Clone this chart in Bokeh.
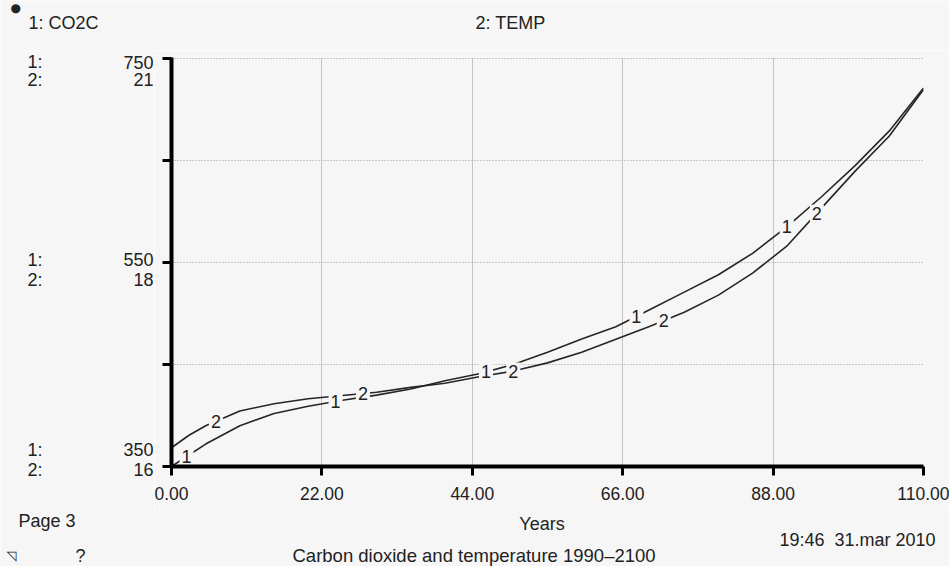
import numpy as np
from bokeh.plotting import figure
from bokeh.layouts import column, row
from bokeh.models import Label, Range1d, FixedTicker, PrintfTickFormatter
from bokeh.core.properties import value
from bokeh.embed import file_html
from bokeh.resources import INLINE

# ---- data ----
years = [0, 2.5, 5, 10, 15, 20, 25, 30, 35, 40, 45, 50, 55, 60, 65, 70, 75, 80, 85, 90, 95, 100, 105, 110]
co2c = [350, 361, 372, 390, 402, 409, 415, 420, 426, 434, 441, 450, 462, 475, 487, 504, 521, 538, 559, 585, 614, 645, 679, 721]
temp = [16.23, 16.38, 16.50, 16.68, 16.77, 16.83, 16.87, 16.91, 16.97, 17.02, 17.10, 17.17, 17.27, 17.40,
        17.56, 17.72, 17.89, 18.10, 18.37, 18.70, 19.16, 19.62, 20.05, 20.62]
x_ticks = [0, 22, 44, 66, 88, 110]
co2_ticks = [350, 450, 550, 650, 750]
label1_years = [2.2, 24, 46, 68, 90]
label2_years = [6.5, 28, 50, 72, 94.4]
scale_rows = [("1:", "750"), ("2:", "21"), ("1:", "550"), ("2:", "18"), ("1:", "350"), ("2:", "16")]

BG = "#f6f6f6"
INK = "#222222"
FONT = "Liberation Sans"


def text_panel(w, h):
    f = figure(width=w, height=h, output_backend="svg", toolbar_location=None, title=None,
               x_axis_type=None, y_axis_type=None, min_border=0,
               background_fill_color=BG, border_fill_color=BG, outline_line_color=None)
    f.frame_align = False
    return f


def lab(fig, txt, x, y, align="left", size="18px", font=FONT):
    fig.add_layout(Label(x=x, y=y, x_units="screen", y_units="screen", text=txt,
                         text_font=font, text_font_size=size, text_color=INK,
                         text_align=align, text_baseline="middle"))


# ---- main chart ----
p = figure(width=795, height=460, x_range=Range1d(0, 110), y_range=Range1d(350, 751),
           output_backend="svg", toolbar_location=None, title=None,
           min_border_left=17, min_border_right=26, min_border_top=7, min_border_bottom=44,
           background_fill_color=BG, border_fill_color=BG, outline_line_color=None)
p.extra_y_ranges = {"temp": Range1d(16, 21.0125)}

p.xgrid.ticker = FixedTicker(ticks=x_ticks)
p.xgrid.grid_line_color = "#c4c4c4"
p.xgrid.grid_line_width = 1
p.ygrid.ticker = FixedTicker(ticks=co2_ticks)
p.ygrid.grid_line_color = "#9a9a9a"
p.ygrid.grid_line_dash = "1 2"
p.ygrid.grid_line_width = 1

for ax in (p.xaxis[0], p.yaxis[0]):
    ax.axis_line_width = 4
    ax.axis_line_color = "black"
    ax.major_tick_line_width = 3
    ax.major_tick_line_color = "black"
    ax.major_tick_in = 0
    ax.major_tick_out = 9
    ax.minor_tick_line_color = None
    ax.major_label_text_font = FONT
    ax.major_label_text_font_size = "17.5px"
    ax.major_label_text_color = INK
p.xaxis.ticker = FixedTicker(ticks=x_ticks)
p.xaxis.formatter = PrintfTickFormatter(format="%.2f")
p.xaxis.major_label_standoff = 11
p.yaxis.ticker = FixedTicker(ticks=co2_ticks)
p.yaxis.major_label_overrides = {t: "" for t in co2_ticks}
p.yaxis.major_label_standoff = 0

p.line(years, co2c, line_color="#262626", line_width=1.6)
p.line(years, temp, line_color="#262626", line_width=1.6, y_range_name="temp")

l1y = np.interp(label1_years, years, co2c)
l2y = np.interp(label2_years, years, temp)
p.text(x=label1_years, y=list(l1y), text=["1"] * len(label1_years), text_align="center",
       text_baseline="middle", text_font=value(FONT), text_font_size="18px", text_color=INK,
       background_fill_color=BG, padding=2)
p.text(x=label2_years, y=list(l2y), text=["2"] * len(label2_years), text_align="center",
       text_baseline="middle", text_font=value(FONT), text_font_size="18px", text_color=INK,
       background_fill_color=BG, padding=2, y_range_name="temp")

# ---- header ----
header = text_panel(949, 50)
lab(header, "\u25CF", 10, 43, size="12px", font="DejaVu Sans")
lab(header, "1: CO2C", 28, 28)
lab(header, "2: TEMP", 475, 28)

# ---- left scale labels ----
left = text_panel(154, 460)
row_y = [448.5, 431, 251, 231, 61, 41]
for (a, b), y in zip(scale_rows, row_y):
    lab(left, a, 27, y)
    lab(left, b, 153, y, "right")

# ---- footer ----
footer = text_panel(949, 56)
lab(footer, "Years", 541.5, 43, "center")
lab(footer, "Page 3", 18, 46)
lab(footer, "19:46\u00a0\u00a031.mar 2010", 935, 27, "right")
lab(footer, "Carbon dioxide and temperature 1990\u20132100", 292, 11, size="18.5px")
lab(footer, "\u25F9", 6, 11, size="13px", font="DejaVu Sans")
lab(footer, "?", 75, 11)

layout = column(header, row(left, p), footer)
open("out.html", "w").write(file_html(layout, INLINE))
